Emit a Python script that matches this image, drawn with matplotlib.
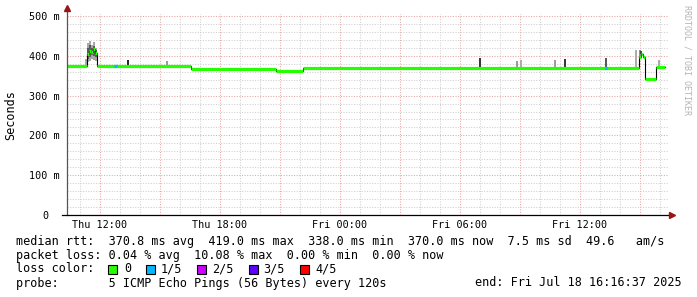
import numpy as np
import pandas as pd
import matplotlib
matplotlib.use('Agg')
import matplotlib.pyplot as plt
import matplotlib.dates as mdates
from matplotlib.patches import Rectangle
from matplotlib.lines import Line2D
from matplotlib.ticker import MultipleLocator, FuncFormatter

# median rtt (ms), step values starting at each time
med_times = ["2025-07-17 10:21", "2025-07-17 11:21", "2025-07-17 11:27", "2025-07-17 11:33",
             "2025-07-17 11:39", "2025-07-17 11:45", "2025-07-17 11:51", "2025-07-17 16:33",
             "2025-07-17 20:48", "2025-07-17 22:09", "2025-07-18 14:57", "2025-07-18 15:03",
             "2025-07-18 15:09", "2025-07-18 15:15", "2025-07-18 15:48", "2025-07-18 16:16"]
med_vals = [375, 404, 413, 409, 416, 407, 375, 368, 363, 369, 396, 404, 398, 341, 371, 371]

# smoke around the early bump
bump_times = ["2025-07-17 11:15", "2025-07-17 11:21", "2025-07-17 11:27", "2025-07-17 11:33",
              "2025-07-17 11:39", "2025-07-17 11:45", "2025-07-17 11:51"]
bump_outer_hi = [392, 432, 437, 428, 434, 420, 375]
bump_outer_lo = [374, 384, 388, 392, 390, 386, 375]
bump_inner_hi = [378, 420, 426, 419, 424, 414, 375]
bump_inner_lo = [375, 392, 398, 401, 400, 396, 375]

# single smoke spikes
spike_times = ["2025-07-17 13:24", "2025-07-17 15:21", "2025-07-18 07:00", "2025-07-18 08:51",
               "2025-07-18 09:03", "2025-07-18 10:45", "2025-07-18 11:15", "2025-07-18 13:18",
               "2025-07-18 14:48", "2025-07-18 15:00", "2025-07-18 15:04", "2025-07-18 15:57"]
spike_tops = [389, 386, 395, 387, 389, 389, 392, 395, 414, 414, 411, 389]
spike_cols = ['#222222', '#999999', '#333333', '#999999', '#aaaaaa', '#999999',
              '#333333', '#555555', '#aaaaaa', '#888888', '#444444', '#aaaaaa']

# 1/5 loss periods
loss_start = ["2025-07-17 12:42", "2025-07-18 13:16"]
loss_end = ["2025-07-17 12:51", "2025-07-18 13:20"]

x_label_times = ["2025-07-17 12:00", "2025-07-17 18:00", "2025-07-18 00:00",
                 "2025-07-18 06:00", "2025-07-18 12:00"]
x_labels = ["Thu 12:00", "Thu 18:00", "Fri 00:00", "Fri 06:00", "Fri 12:00"]
y_ticks = [0, 100, 200, 300, 400, 500]
y_labels = ["0", "100 m", "200 m", "300 m", "400 m", "500 m"]

loss_names = ["0", "1/5", "2/5", "3/5", "4/5"]
loss_colors = ['#26ff00', '#00b8ff', '#cc00ff', '#6000ff', '#ff0000']

mono = 'DejaVu Sans Mono'
W, H = 697, 297

def d(lst):
    return mdates.date2num(pd.to_datetime(lst).to_pydatetime())

fig = plt.figure(figsize=(W / 100, H / 100), dpi=100)
ax = fig.add_axes([67 / W, (H - 215) / H, 601 / W, 201 / H])
ax.set_xlim(d(["2025-07-17 10:21"])[0], d(["2025-07-18 16:24"])[0])
ax.set_ylim(0, 505)

# grid
ax.xaxis.set_major_locator(mdates.HourLocator(byhour=range(0, 24, 3)))
ax.xaxis.set_minor_locator(mdates.HourLocator())
lab = dict(zip(np.round(d(x_label_times), 5), x_labels))
ax.xaxis.set_major_formatter(FuncFormatter(lambda v, p: lab.get(round(v, 5), '')))
ax.set_yticks(y_ticks, y_labels)
ax.yaxis.set_minor_locator(MultipleLocator(20))
ax.grid(which='major', color='#e8a4a4', linestyle=(0, (1, 1.5)), lw=0.75)
ax.grid(which='minor', color='#cfcfcf', linestyle=(0, (1, 1.5)), lw=0.75)
ax.set_axisbelow(True)
ax.tick_params(which='both', length=0)
ax.tick_params(axis='x', pad=3.5, labelsize=7.3)
ax.tick_params(axis='y', pad=5, labelsize=7.3)
for t in ax.get_xticklabels() + ax.get_yticklabels():
    t.set_family(mono)
ax.yaxis.get_major_ticks()[0].set_pad(5 + 8.6)
for s in ax.spines.values():
    s.set_visible(False)

tm = d(med_times)
vm = np.array(med_vals, dtype=float)

# smoke
tb = d(bump_times)
ax.fill_between(tb, bump_outer_lo, bump_outer_hi, step='post', color='#a8a8a8', lw=0)
ax.fill_between(tb, bump_inner_lo, bump_inner_hi, step='post', color='#5a5a5a', lw=0)
ts = d(spike_times)
base = vm[np.searchsorted(tm, ts, side='right') - 1]
ax.vlines(ts, base, spike_tops, colors=spike_cols, lw=1.4)

# median
ax.step(tm, vm, where='post', color='black', lw=0.8)
ax.hlines(vm[:-1], tm[:-1], tm[1:], color=loss_colors[0], lw=2.3)
t0, t1 = d(loss_start), d(loss_end)
lv = vm[np.searchsorted(tm, t0, side='right') - 1]
ax.hlines(lv, t0, t1, color=loss_colors[1], lw=2.3)

# axes with arrows
arrow_c = '#9a1414'
ax.add_line(Line2D([0, 0], [0, 1.025], transform=ax.transAxes, color='#555555', lw=0.9, clip_on=False))
ax.add_line(Line2D([-0.008, 1.005], [0, 0], transform=ax.transAxes, color='black', lw=0.9, clip_on=False))
ax.plot([0], [1.03], marker='^', ms=4.5, color=arrow_c, transform=ax.transAxes, clip_on=False)
ax.plot([1.006], [0], marker='>', ms=4.5, color=arrow_c, transform=ax.transAxes, clip_on=False)

fig.text(11 / W, 1 - 115 / H, "Seconds", rotation=90, ha='center', va='center', family=mono, fontsize=8.5)
fig.text(687 / W, 1 - 5 / H, "RRDTOOL / TOBI OETIKER", rotation=270, ha='center', va='top',
         family=mono, fontsize=6, color='#b4b4b4')

lines = ["median rtt:  370.8 ms avg  419.0 ms max  338.0 ms min  370.0 ms now  7.5 ms sd  49.6   am/s",
         "packet loss: 0.04 % avg  10.08 % max  0.00 % min  0.00 % now",
         "loss color:",
         "probe:       5 ICMP Echo Pings (56 Bytes) every 120s"]
for i, s in enumerate(lines):
    fig.text(16 / W, 1 - (241 + 14 * i) / H, s, ha='left', va='center', family=mono, fontsize=8.5)
fig.text(682 / W, 1 - 283 / H, "end: Fri Jul 18 16:16:37 2025", ha='right', va='center', family=mono, fontsize=8.5)

box_x = [108, 146, 197, 249, 300]
lab_x = [124, 161, 212, 263, 315]
for bx, lx, nm, c in zip(box_x, lab_x, loss_names, loss_colors):
    fig.add_artist(Rectangle((bx / W, 1 - 273.5 / H), 9 / W, 9 / H, transform=fig.transFigure,
                             facecolor=c, edgecolor='black', lw=0.8))
    fig.text(lx / W, 1 - 269 / H, nm, ha='left', va='center', family=mono, fontsize=8.5)

fig.savefig('out.png', dpi=100, facecolor='white')
